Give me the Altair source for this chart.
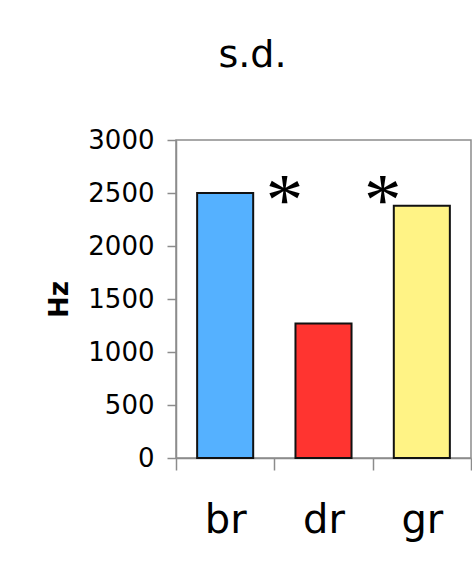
import altair as alt
import pandas as pd

# Standard deviation of frequency per category
categories = ["br", "dr", "gr"]
values = [2500, 1270, 2380]
colors = ["#55B1FF", "#FF3430", "#FFF385"]

# Significance markers placed just left of the bar they refer to
star_categories = ["dr", "gr"]
star_level = [2500, 2500]

bars_df = pd.DataFrame({"cat": categories, "hz": values, "color": colors})
stars_df = pd.DataFrame({"cat": star_categories, "hz": star_level, "label": ["*", "*"]})

gray = "#8c8c8c"

x_enc = alt.X(
    "cat:N",
    sort=categories,
    scale=alt.Scale(paddingInner=0, paddingOuter=0),
    axis=alt.Axis(
        title=None,
        labelAngle=0,
        labelFont="DejaVu Sans",
        labelFontSize=40,
        labelColor="#000000",
        labelBaseline="alphabetic",
        labelPadding=62,
        tickBand="extent",
        tickSize=12,
        tickColor=gray,
        tickWidth=1.5,
        domainColor=gray,
        domainWidth=1.5,
    ),
)

y_enc = alt.Y(
    "hz:Q",
    scale=alt.Scale(domain=[0, 3000], nice=False),
    axis=alt.Axis(
        title="Hz",
        values=[0, 500, 1000, 1500, 2000, 2500, 3000],
        format="d",
        grid=False,
        labelFont="DejaVu Sans",
        labelFontSize=26,
        labelColor="#000000",
        labelPadding=13,
        tickSize=9,
        tickColor=gray,
        tickWidth=1.5,
        domainColor=gray,
        domainWidth=1.5,
        titleFont="DejaVu Sans",
        titleFontSize=26,
        titleFontWeight="bold",
        titleColor="#000000",
        titleAngle=-90,
        titleX=-117,
        titleY=159,
        titleAlign="center",
        titleBaseline="middle",
    ),
)

bars = alt.Chart(bars_df).mark_bar(
    stroke="#111111", strokeWidth=2, width=alt.RelativeBandSize(0.57)
).encode(
    x=x_enc,
    y=y_enc,
    color=alt.Color("color:N", scale=None),
)

stars = alt.Chart(stars_df).mark_text(
    font="Liberation Serif",
    fontSize=75,
    color="#000000",
    dx=-39,
    dy=9,
    baseline="middle",
).encode(
    x=alt.X("cat:N", sort=categories),
    y=alt.Y("hz:Q"),
    text="label:N",
)

chart = (
    alt.layer(bars, stars)
    .properties(
        width=295,
        height=318,
        autosize=alt.AutoSizeParams(type="none"),
        padding={"left": 176, "top": 140, "right": 1, "bottom": 107},
        title=alt.TitleParams(
            "s.d.",
            font="DejaVu Sans",
            fontSize=38,
            fontWeight="normal",
            color="#000000",
            anchor="middle",
            dx=-71,
            offset=52,
        ),
        background="#ffffff",
    )
    .configure_view(stroke=gray, strokeWidth=1.5)
)

chart.save("out.html", embed_options={"renderer": "svg", "actions": False})
